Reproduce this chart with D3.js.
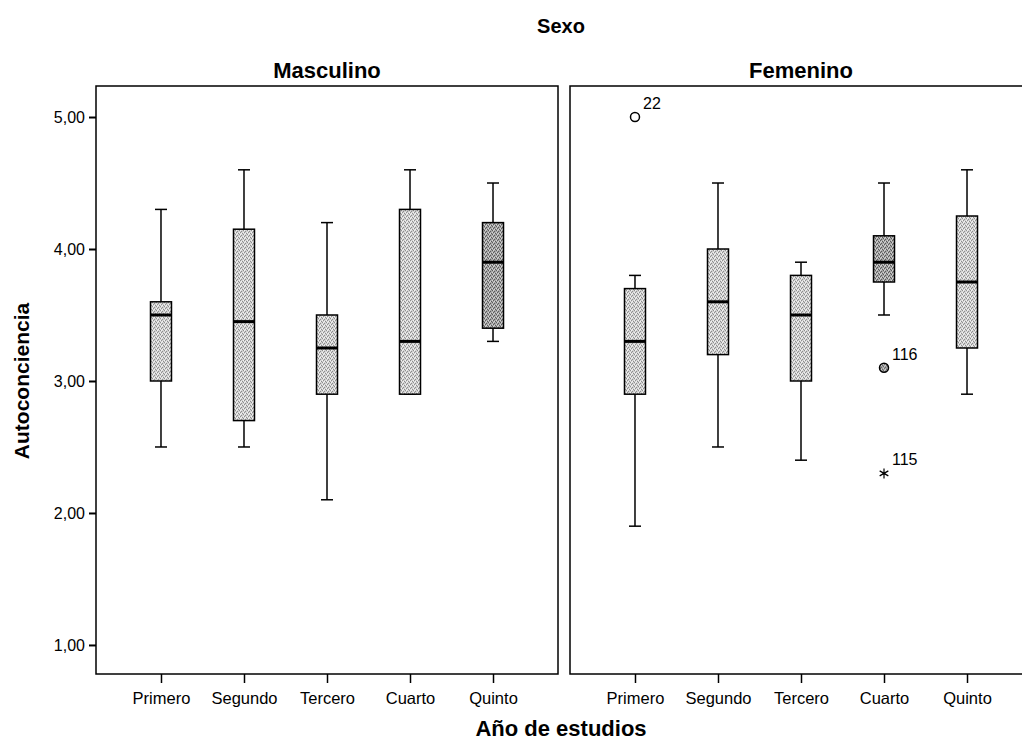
<!DOCTYPE html>
<html>
<head>
<meta charset="utf-8">
<script src="https://cdn.jsdelivr.net/npm/d3@7"></script>
<style>
  body { margin: 0; background: #fff; }
  svg text { font-family: "Liberation Sans", Arial, sans-serif; fill: #000; }
</style>
</head>
<body>
<div id="container"></div>
<script>
/* DATA */
const categories = ["Primero", "Segundo", "Tercero", "Cuarto", "Quinto"];
const sexes = ["Masculino", "Femenino"];
const yTicks = [1, 2, 3, 4, 5];

// five-number summaries per sex, in category order
const masculinoLow = [2.5, 2.5, 2.1, 2.9, 3.3];
const masculinoQ1 = [3.0, 2.7, 2.9, 2.9, 3.4];
const masculinoMedian = [3.5, 3.45, 3.25, 3.3, 3.9];
const masculinoQ3 = [3.6, 4.15, 3.5, 4.3, 4.2];
const masculinoHigh = [4.3, 4.6, 4.2, 4.6, 4.5];

const femeninoLow = [1.9, 2.5, 2.4, 3.5, 2.9];
const femeninoQ1 = [2.9, 3.2, 3.0, 3.75, 3.25];
const femeninoMedian = [3.3, 3.6, 3.5, 3.9, 3.75];
const femeninoQ3 = [3.7, 4.0, 3.8, 4.1, 4.25];
const femeninoHigh = [3.8, 4.5, 3.9, 4.5, 4.6];

// boxes drawn in the darker shade
const darkBoxes = [["Masculino", "Quinto"], ["Femenino", "Cuarto"]];

const outliers = [
  { sex: "Femenino", cat: "Primero", value: 5.0, id: "22", kind: "circle" },
  { sex: "Femenino", cat: "Cuarto", value: 3.1, id: "116", kind: "filled" },
  { sex: "Femenino", cat: "Cuarto", value: 2.3, id: "115", kind: "star" },
];

/* CONSTANTS */
const width = 1022, height = 743;
const panelW = 462, panelTop = 86, panelBottom = 674;
const panelX = { Masculino: 96, Femenino: 570 };
const boxW = 21, capW = 12;

const summaries = {
  Masculino: categories.map((c, i) => ({ cat: c, low: masculinoLow[i], q1: masculinoQ1[i], med: masculinoMedian[i], q3: masculinoQ3[i], high: masculinoHigh[i] })),
  Femenino: categories.map((c, i) => ({ cat: c, low: femeninoLow[i], q1: femeninoQ1[i], med: femeninoMedian[i], q3: femeninoQ3[i], high: femeninoHigh[i] })),
};

const svg = d3.select("#container")
  .append("svg")
  .attr("width", width)
  .attr("height", height);

// stipple textures for the boxes
const defs = svg.append("defs");
function stipple(id, base, dot, light) {
  const p = defs.append("pattern")
    .attr("id", id)
    .attr("width", 4).attr("height", 4)
    .attr("patternUnits", "userSpaceOnUse");
  p.append("rect").attr("width", 4).attr("height", 4).attr("fill", base);
  [[0, 0], [2, 1], [1, 3], [3, 2]].forEach(([x, y]) =>
    p.append("rect").attr("x", x).attr("y", y).attr("width", 1).attr("height", 1).attr("fill", dot));
  [[1, 1], [3, 0], [0, 2]].forEach(([x, y]) =>
    p.append("rect").attr("x", x).attr("y", y).attr("width", 1).attr("height", 1).attr("fill", light));
}
stipple("lightFill", "#d2d2d2", "#8e8e8e", "#f4f4f4");
stipple("darkFill", "#a6a6a6", "#5a5a5a", "#d6d6d6");

const y = d3.scaleLinear()
  .domain([0.78, 5.235])
  .range([panelBottom, panelTop]);

const x = d3.scalePoint()
  .domain(categories)
  .range([0, panelW])
  .padding(0.783);

sexes.forEach(sex => {
  const g = svg.append("g").attr("transform", `translate(${panelX[sex]},0)`);

  // panel frame
  g.append("rect")
    .attr("x", 0).attr("y", panelTop)
    .attr("width", panelW).attr("height", panelBottom - panelTop)
    .attr("fill", "none").attr("stroke", "#000").attr("stroke-width", 1.5);

  // panel header
  g.append("text")
    .attr("x", panelW / 2).attr("y", 78)
    .attr("text-anchor", "middle")
    .attr("font-size", 22).attr("font-weight", "bold")
    .text(sex);

  // x axis
  const xAxis = g.append("g")
    .attr("transform", `translate(0,${panelBottom})`)
    .call(d3.axisBottom(x).tickSize(9).tickPadding(6));
  xAxis.select(".domain").remove();
  xAxis.selectAll("line").attr("stroke", "#000").attr("stroke-width", 1.5);
  xAxis.selectAll("text").attr("font-size", 16.5).attr("dy", "0.9em");

  const data = summaries[sex];
  const boxes = g.selectAll("g.box")
    .data(data)
    .join("g")
    .attr("class", "box")
    .attr("transform", d => `translate(${x(d.cat)},0)`);

  // whiskers
  boxes.append("line")
    .attr("y1", d => y(d.high)).attr("y2", d => y(d.low))
    .attr("stroke", "#000").attr("stroke-width", 1.5);
  boxes.append("line")
    .attr("x1", -capW / 2).attr("x2", capW / 2)
    .attr("y1", d => y(d.high)).attr("y2", d => y(d.high))
    .attr("stroke", "#000").attr("stroke-width", 1.5);
  boxes.append("line")
    .attr("x1", -capW / 2).attr("x2", capW / 2)
    .attr("y1", d => y(d.low)).attr("y2", d => y(d.low))
    .attr("stroke", "#000").attr("stroke-width", 1.5);

  // box
  boxes.append("rect")
    .attr("x", -boxW / 2).attr("width", boxW)
    .attr("y", d => y(d.q3)).attr("height", d => y(d.q1) - y(d.q3))
    .attr("fill", d => darkBoxes.some(([s, c]) => s === sex && c === d.cat) ? "url(#darkFill)" : "url(#lightFill)")
    .attr("stroke", "#000").attr("stroke-width", 1.5);

  // median
  boxes.append("line")
    .attr("x1", -boxW / 2).attr("x2", boxW / 2)
    .attr("y1", d => y(d.med)).attr("y2", d => y(d.med))
    .attr("stroke", "#000").attr("stroke-width", 3);

  // outliers
  const outs = g.selectAll("g.out")
    .data(outliers.filter(o => o.sex === sex))
    .join("g")
    .attr("class", "out")
    .attr("transform", d => `translate(${x(d.cat)},${y(d.value)})`);

  outs.filter(d => d.kind !== "star").append("circle")
    .attr("r", 4.5)
    .attr("fill", d => d.kind === "filled" ? "url(#darkFill)" : "#fff")
    .attr("stroke", "#000").attr("stroke-width", 1.5);

  outs.filter(d => d.kind === "star").append("path")
    .attr("d", d3.symbol(d3.symbolAsterisk, 70))
    .attr("stroke", "#000").attr("stroke-width", 1.2);

  outs.append("text")
    .attr("x", 8).attr("y", -8)
    .attr("font-size", 16)
    .text(d => d.id);
});

// y axis, on the left panel
const yAxis = svg.append("g")
  .attr("transform", `translate(${panelX.Masculino},0)`)
  .call(d3.axisLeft(y).tickValues(yTicks).tickSize(7).tickPadding(4)
    .tickFormat(d => d3.format(".2f")(d).replace(".", ",")));
yAxis.select(".domain").remove();
yAxis.selectAll("line").attr("stroke", "#000").attr("stroke-width", 2);
yAxis.selectAll("text").attr("font-size", 16);

// titles
svg.append("text")
  .attr("x", 561).attr("y", 33)
  .attr("text-anchor", "middle")
  .attr("font-size", 20).attr("font-weight", "bold")
  .text("Sexo");

svg.append("text")
  .attr("x", 561).attr("y", 736)
  .attr("text-anchor", "middle")
  .attr("font-size", 22).attr("font-weight", "bold")
  .text("Año de estudios");

svg.append("text")
  .attr("transform", `translate(29,${y(3)}) rotate(-90)`)
  .attr("text-anchor", "middle")
  .attr("font-size", 21).attr("font-weight", "bold")
  .text("Autoconciencia");
</script>
</body>
</html>
